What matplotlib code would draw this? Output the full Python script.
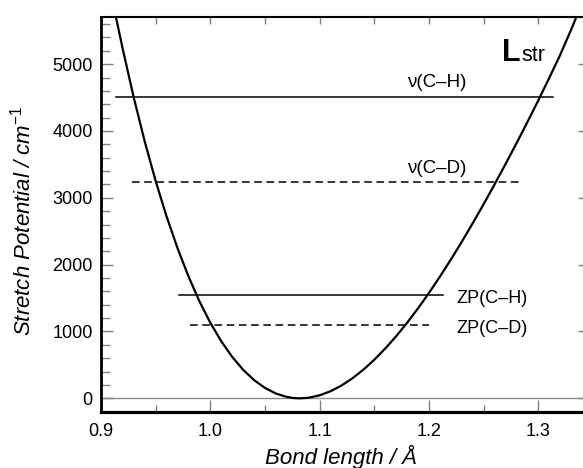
import matplotlib
matplotlib.use("Agg")
import matplotlib.pyplot as plt
from matplotlib.ticker import MultipleLocator

plt.rcParams['font.family'] = ['Liberation Sans', 'DejaVu Sans']
plt.rcParams['mathtext.fontset'] = 'custom'
plt.rcParams['mathtext.rm'] = 'Liberation Sans'
plt.rcParams['mathtext.it'] = 'Liberation Sans:italic'

# Potential curve (bond length / Å, potential / cm-1)
bond_length = [0.911, 0.915, 0.920, 0.930, 0.940, 0.950, 0.960, 0.970, 0.980,
               0.990, 1.000, 1.010, 1.020, 1.030, 1.040, 1.050, 1.060, 1.070,
               1.076, 1.082, 1.090, 1.100, 1.110, 1.120, 1.130, 1.140, 1.150,
               1.160, 1.170, 1.180, 1.190, 1.200, 1.210, 1.220, 1.230, 1.240,
               1.250, 1.260, 1.270, 1.280, 1.290, 1.300, 1.310, 1.320, 1.330,
               1.337]
potential = [5900, 5605, 5220, 4500, 3845, 3253, 2722, 2248, 1826,
             1455, 1132, 855, 621, 428, 274, 156, 72, 21,
             5, 0, 9, 45, 106, 191, 299, 428, 576,
             744, 928, 1129, 1345, 1575, 1819, 2074, 2340, 2617,
             2903, 3198, 3502, 3812, 4129, 4455, 4790, 5135, 5510,
             5790]

# Energy levels
level_names = ['ν(C–H)', 'ν(C–D)', 'ZP(C–H)', 'ZP(C–D)']
level_values = [4510, 3240, 1550, 1100]
level_xstart = [0.9134, 0.9281, 0.9717, 0.9814]
level_xend = [1.3138, 1.2842, 1.2130, 1.2004]
level_dashed = [False, True, False, True]

fig = plt.figure(figsize=(5.83, 4.68), dpi=100)
ax = fig.add_axes([0.1732, 0.1203, 0.8285, 0.8440])
ax.set_xlim(0.9, 1.3419)
ax.set_ylim(-200, 5710)

ax.axhline(0, color='#8c8c8c', lw=1.0, zorder=1)
ax.plot(bond_length, potential, color='black', lw=1.6, zorder=3,
        solid_joinstyle='round')

for name, v, x0, x1, dashed in zip(level_names, level_values, level_xstart, level_xend, level_dashed):
    ls = (0, (5, 3)) if dashed else '-'
    ax.plot([x0, x1], [v, v], color='black', lw=1.1, linestyle=ls, zorder=2)

# labels
ax.text(1.1796, 4656, 'ν(C–H)', fontsize=13.5, ha='left', va='baseline')
ax.text(1.1796, 3377, 'ν(C–D)', fontsize=13.5, ha='left', va='baseline')
ax.text(1.2248, 1422, 'ZP(C–H)', fontsize=13, ha='left', va='baseline')
ax.text(1.2248, 973, 'ZP(C–D)', fontsize=13, ha='left', va='baseline')
ax.text(1.2672, 5049, 'L', fontsize=22, fontweight='bold', ha='left', va='baseline')
ax.text(1.2848, 5049, 'str', fontsize=15.5, ha='left', va='baseline')

# ticks
ax.set_xticks([0.9, 1.0, 1.1, 1.2, 1.3])
ax.set_xticklabels(['0.9', '1.0', '1.1', '1.2', '1.3'])
ax.xaxis.set_minor_locator(MultipleLocator(0.05))
ax.set_yticks([0, 1000, 2000, 3000, 4000, 5000])
ax.yaxis.set_minor_locator(MultipleLocator(200))
ax.tick_params(axis='both', which='both', direction='in', colors='#808080',
               labelcolor='black', top=False, right=False, width=1.0)
ax.tick_params(axis='x', which='major', length=8.5, pad=8, labelsize=13)
ax.tick_params(axis='x', which='minor', length=5)
ax.tick_params(axis='y', which='major', length=8.5, pad=6, labelsize=13)
ax.tick_params(axis='y', which='minor', length=6.5)

secx = ax.secondary_xaxis('top')
secx.set_xticks([0.9 + 0.05 * i for i in range(9)])
secx.tick_params(direction='in', length=5, colors='#808080', labeltop=False, width=1.0)
secx.spines['top'].set_visible(False)

secy = ax.secondary_yaxis('right')
secy.set_yticks([0, 1000, 2000, 3000, 4000, 5000])
secy.tick_params(direction='in', length=4.5, colors='#808080', labelright=False, width=1.0)
secy.spines['right'].set_visible(False)

ax.spines['top'].set_linewidth(1.5)
ax.spines['left'].set_linewidth(2.0)
ax.spines['bottom'].set_linewidth(2.3)
ax.spines['right'].set_linewidth(1.5)

ax.set_xlabel('Bond length / Å', fontsize=16, style='italic')
ax.set_ylabel(r'Stretch Potential / cm$^{-1}$', fontsize=16, style='italic')
ax.xaxis.set_label_coords(0.497, -0.084)
ax.yaxis.set_label_coords(-0.1346, 0.4828)

fig.savefig('out.png', dpi=100)
